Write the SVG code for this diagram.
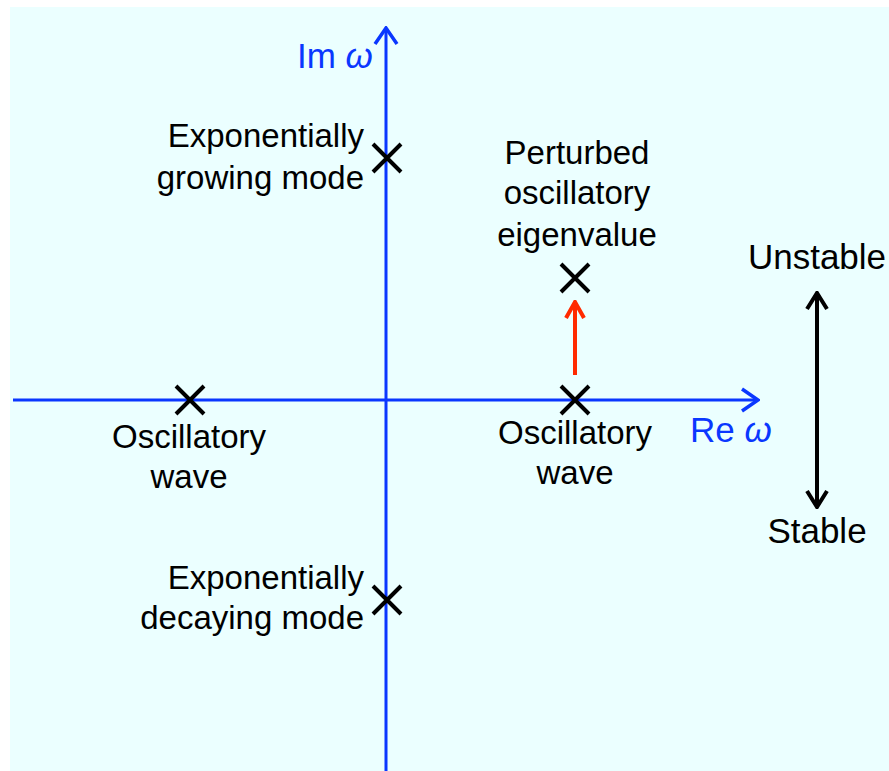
<svg xmlns="http://www.w3.org/2000/svg" width="889" height="771" viewBox="0 0 889 771">
<defs>
<style>
.t{font-family:"Liberation Sans",Arial,sans-serif;font-size:33px;fill:#000}
.b{fill:#0a37ff;font-size:35px}
.s{font-size:35px}
.ax{stroke:#0a37ff;stroke-width:3;fill:none}
.x{stroke:#000;stroke-width:4;fill:none}
</style>
<marker id="ha" viewBox="0 0 20 26" refX="18" refY="13" markerWidth="20" markerHeight="26" markerUnits="userSpaceOnUse" orient="auto">
<path d="M2,2 L18,13 L2,24" fill="none" stroke="#0a37ff" stroke-width="3.5"/>
</marker>
<marker id="hr" viewBox="0 0 20 22" refX="18" refY="11" markerWidth="20" markerHeight="22" markerUnits="userSpaceOnUse" orient="auto">
<path d="M2,2 L18,11 L2,20" fill="none" stroke="#ff2a00" stroke-width="4"/>
</marker>
<marker id="hk" viewBox="0 0 20 24" refX="18" refY="12" markerWidth="20" markerHeight="24" markerUnits="userSpaceOnUse" orient="auto-start-reverse">
<path d="M2,2 L18,12 L2,22" fill="none" stroke="#000" stroke-width="4"/>
</marker>
</defs>
<rect x="10" y="7" width="879" height="764" fill="#ebffff"/>
<g id="connectors">
<line class="ax" x1="386" y1="771" x2="386" y2="28" marker-end="url(#ha)"/>
<line class="ax" x1="13" y1="400" x2="758" y2="400" marker-end="url(#ha)"/>
<line x1="575" y1="375" x2="575" y2="302" stroke="#ff2a00" stroke-width="4" marker-end="url(#hr)"/>
<line x1="817" y1="293" x2="817" y2="507" stroke="#000" stroke-width="4" marker-start="url(#hk)" marker-end="url(#hk)"/>
</g>
<g id="im-label"><text class="t b" x="297" y="68">Im <tspan font-style="italic">ω</tspan></text></g>
<g id="re-label"><text class="t b" x="690" y="442">Re <tspan font-style="italic">ω</tspan></text></g>
<g id="growing">
<path class="x" d="M373,144 L401,172 M401,144 L373,172"/>
<text class="t" text-anchor="end" x="364" y="147">Exponentially</text>
<text class="t" text-anchor="end" x="364" y="189">growing mode</text>
</g>
<g id="decaying">
<path class="x" d="M373,586 L401,614 M401,586 L373,614"/>
<text class="t" text-anchor="end" x="364" y="589">Exponentially</text>
<text class="t" text-anchor="end" x="364" y="629">decaying mode</text>
</g>
<g id="wave-left">
<path class="x" d="M176,386 L204,414 M204,386 L176,414"/>
<text class="t" text-anchor="middle" x="189" y="448">Oscillatory</text>
<text class="t" text-anchor="middle" x="189" y="488">wave</text>
</g>
<g id="wave-right">
<path class="x" d="M561,386 L589,414 M589,386 L561,414"/>
<text class="t" text-anchor="middle" x="575" y="444">Oscillatory</text>
<text class="t" text-anchor="middle" x="575" y="484">wave</text>
</g>
<g id="perturbed">
<path class="x" d="M561,264 L589,292 M589,264 L561,292"/>
<text class="t" text-anchor="middle" x="577" y="164">Perturbed</text>
<text class="t" text-anchor="middle" x="577" y="204">oscillatory</text>
<text class="t" text-anchor="middle" x="577" y="246">eigenvalue</text>
</g>
<g id="unstable"><text class="t s" text-anchor="middle" x="817" y="269">Unstable</text></g>
<g id="stable"><text class="t s" text-anchor="middle" x="817" y="543">Stable</text></g>
</svg>
